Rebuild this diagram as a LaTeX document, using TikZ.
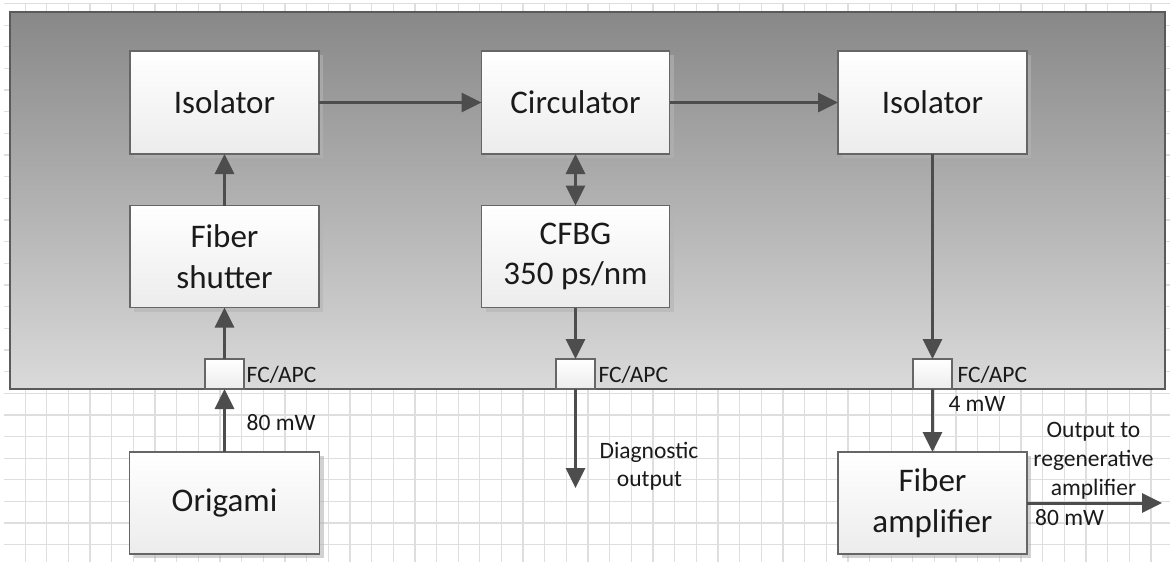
\documentclass[tikz,border=0pt]{standalone}
\usepackage{fontspec}
\setmainfont{Carlito}
\usetikzlibrary{arrows.meta,shadows}
\definecolor{gridc}{HTML}{DEDEDE}
\definecolor{paneltop}{HTML}{888888}
\definecolor{panelbot}{HTML}{DADADA}
\definecolor{panelline}{HTML}{5A5A5A}
\definecolor{boxline}{HTML}{666666}
\definecolor{boxbot}{HTML}{ECECEC}
\definecolor{arrc}{HTML}{4D4D4D}
\definecolor{shad}{HTML}{B4B4B4}
\definecolor{txt}{HTML}{1A1A1A}
\newcommand{\bigf}{\fontsize{33}{40.7}\selectfont}
\newcommand{\smallf}{\fontsize{23.5}{29}\selectfont}
\begin{document}
\begin{tikzpicture}[x=1pt,y=-1pt,
  gridline/.style={draw=gridc, line width=1.3pt},
  panelbox/.style={draw=panelline, line width=2pt, top color=paneltop, bottom color=panelbot, inner sep=0pt, outer sep=0pt, anchor=north west},
  blk/.style={draw=boxline, line width=1.6pt, top color=white, bottom color=boxbot, inner sep=0pt, outer sep=0pt, align=center, font=\bigf, text=txt,
    drop shadow={shadow xshift=4pt, shadow yshift=-4pt, fill=shad, opacity=0.6}},
  conn/.style={draw=boxline, line width=1.4pt, top color=white, bottom color=boxbot, inner sep=0pt, outer sep=0pt, minimum width=39pt, minimum height=30pt},
  lbl/.style={font=\smallf, text=txt, inner sep=0pt},
  arr/.style={draw=arrc, line width=3pt, -{Triangle[length=20pt,width=19pt]}},
  darr/.style={draw=arrc, line width=3pt, {Triangle[length=20pt,width=19pt]}-{Triangle[length=20pt,width=19pt]}}
]
\useasboundingbox (0,0) rectangle (1170,562);
\fill[white] (0,0) rectangle (1170,562);
% grid
\foreach \k in {1,...,53} \draw[gridline] ({3.5+21.65*\k},3.5) -- ({3.5+21.65*\k},562);
\foreach \k in {0,...,25} \draw[gridline] (3.5,{3.5+21.65*\k}) -- (1170,{3.5+21.65*\k});
% panel
\node[panelbox, minimum width=1155pt, minimum height=377pt] (panel) at (10,12) {};
% blocks
\node[blk, minimum width=189pt, minimum height=103pt] (iso1) at (224.5,102.5) {Isolator};
\node[blk, minimum width=188pt, minimum height=103pt] (circ) at (575.5,102.5) {Circulator};
\node[blk, minimum width=189pt, minimum height=103pt] (iso2) at (932.5,102.5) {Isolator};
\node[blk, minimum width=189pt, minimum height=102pt] (shut) at (224.5,256.5) {Fiber\\shutter};
\node[blk, minimum width=188pt, minimum height=102pt] (cfbg) at (575.5,256.5) {CFBG\\350 ps/nm};
\node[blk, minimum width=190pt, minimum height=102pt] (orig) at (224.5,503) {Origami};
\node[blk, minimum width=189pt, minimum height=102pt] (famp) at (932.5,503) {Fiber\\amplifier};
% connectors
\node[conn] (c1) at (224.5,374) {};
\node[conn] (c2) at (575.5,374) {};
\node[conn] (c3) at (932.5,374) {};
% labels
\node[lbl, anchor=base west] (fc1) at (246.5,382.5) {FC/APC};
\node[lbl, anchor=base west] (fc2) at (598.3,382.5) {FC/APC};
\node[lbl, anchor=base west] (fc3) at (957.3,382.5) {FC/APC};
\node[lbl, anchor=base west] (p1) at (246.5,430.7) {80 mW};
\node[lbl, anchor=base west] (p2) at (948.3,411) {4 mW};
\node[lbl, anchor=base] (d1) at (649,458.3) {Diagnostic};
\node[lbl, anchor=base] (d2) at (649.5,486.7) {output};
\node[lbl, anchor=base] (o1) at (1093.5,437.3) {Output to};
\node[lbl, anchor=base] (o2) at (1093.5,466) {regenerative};
\node[lbl, anchor=base] (o3) at (1093.5,495.7) {amplifier};
\node[lbl, anchor=base west] (p3) at (1035,525) {80 mW};
% free ends
\coordinate (diag) at (575.5,488);
\coordinate (outp) at (1162,503);
% arrows
\draw[arr] (iso1.east) -- (circ.west);
\draw[arr] (circ.east) -- (iso2.west);
\draw[arr] (iso2.south) -- (c3.north);
\draw[arr] (shut.north) -- (iso1.south);
\draw[arr] (c1.north) -- (shut.south);
\draw[arr] (orig.north) -- (c1.south);
\draw[darr] (circ.south) -- (cfbg.north);
\draw[arr] (cfbg.south) -- (c2.north);
\draw[arr] (c2.south) -- (diag);
\draw[arr] (c3.south) -- (famp.north);
\draw[arr] (famp.east) -- (outp);
\end{tikzpicture}
\end{document}
